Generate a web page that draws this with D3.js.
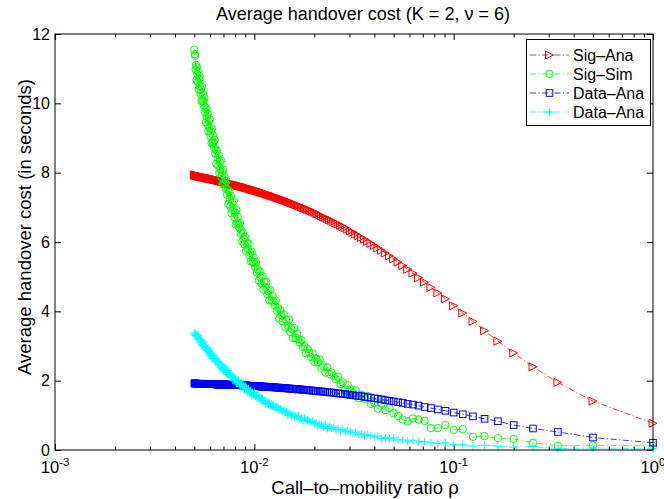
<!DOCTYPE html>
<html><head><meta charset="utf-8">
<script src="https://cdn.jsdelivr.net/npm/d3@7/dist/d3.min.js"></script>
<style>
body{margin:0;background:#fff}
svg{display:block}
text{font-family:"Liberation Sans",Arial,Helvetica,sans-serif;fill:#000}
</style>
</head><body>
<svg id="chart" width="664" height="499"></svg>
<script>
// Call-to-mobility ratio rho (x values, 1/1 ... 1/200)
const rho = [1,0.5,0.3333,0.25,0.2,0.1667,0.1429,0.125,0.1111,0.1,
0.09091,0.08333,0.07692,0.07143,0.06667,0.0625,0.05882,0.05556,0.05263,0.05,
0.04762,0.04545,0.04348,0.04167,0.04,0.03846,0.03704,0.03571,0.03448,0.03333,
0.03226,0.03125,0.0303,0.02941,0.02857,0.02778,0.02703,0.02632,0.02564,0.025,
0.02439,0.02381,0.02326,0.02273,0.02222,0.02174,0.02128,0.02083,0.02041,0.02,
0.01961,0.01923,0.01887,0.01852,0.01818,0.01786,0.01754,0.01724,0.01695,0.01667,
0.01639,0.01613,0.01587,0.01563,0.01538,0.01515,0.01493,0.01471,0.01449,0.01429,
0.01408,0.01389,0.0137,0.01351,0.01333,0.01316,0.01299,0.01282,0.01266,0.0125,
0.01235,0.0122,0.01205,0.0119,0.01176,0.01163,0.01149,0.01136,0.01124,0.01111,
0.01099,0.01087,0.01075,0.01064,0.01053,0.01042,0.01031,0.0102,0.0101,0.01,
0.009901,0.009804,0.009709,0.009615,0.009524,0.009434,0.009346,0.009259,0.009174,0.009091,
0.009009,0.008929,0.00885,0.008772,0.008696,0.008621,0.008547,0.008475,0.008403,0.008333,
0.008264,0.008197,0.00813,0.008065,0.008,0.007937,0.007874,0.007813,0.007752,0.007692,
0.007634,0.007576,0.007519,0.007463,0.007407,0.007353,0.007299,0.007246,0.007194,0.007143,
0.007092,0.007042,0.006993,0.006944,0.006897,0.006849,0.006803,0.006757,0.006711,0.006667,
0.006623,0.006579,0.006536,0.006494,0.006452,0.00641,0.006369,0.006329,0.006289,0.00625,
0.006211,0.006173,0.006135,0.006098,0.006061,0.006024,0.005988,0.005952,0.005917,0.005882,
0.005848,0.005814,0.00578,0.005747,0.005714,0.005682,0.00565,0.005618,0.005587,0.005556,
0.005525,0.005495,0.005464,0.005435,0.005405,0.005376,0.005348,0.005319,0.005291,0.005263,
0.005236,0.005208,0.005181,0.005155,0.005128,0.005102,0.005076,0.005051,0.005025,0.005];

const sigAna = [0.77,1.41,1.95,2.40,2.80,3.14,3.44,3.71,3.95,4.16,
4.36,4.53,4.69,4.84,4.97,5.10,5.21,5.32,5.42,5.51,
5.60,5.68,5.76,5.83,5.90,5.96,6.02,6.08,6.13,6.18,
6.23,6.28,6.32,6.37,6.41,6.45,6.48,6.52,6.55,6.59,
6.62,6.64,6.67,6.70,6.72,6.75,6.78,6.81,6.83,6.86,
6.88,6.90,6.92,6.94,6.96,6.98,6.99,7.01,7.03,7.05,
7.07,7.08,7.10,7.11,7.13,7.14,7.16,7.17,7.19,7.20,
7.21,7.22,7.24,7.25,7.26,7.27,7.28,7.30,7.31,7.32,
7.33,7.34,7.35,7.36,7.37,7.38,7.39,7.40,7.41,7.42,
7.43,7.44,7.44,7.45,7.46,7.47,7.48,7.48,7.49,7.50,
7.51,7.51,7.52,7.53,7.53,7.54,7.55,7.56,7.56,7.57,
7.58,7.58,7.59,7.59,7.60,7.61,7.61,7.62,7.62,7.63,
7.63,7.64,7.64,7.65,7.65,7.66,7.66,7.67,7.67,7.68,
7.68,7.69,7.69,7.70,7.70,7.71,7.71,7.72,7.72,7.73,
7.73,7.74,7.74,7.75,7.75,7.75,7.76,7.76,7.77,7.77,
7.77,7.78,7.78,7.79,7.79,7.79,7.80,7.80,7.81,7.81,
7.81,7.82,7.82,7.82,7.83,7.83,7.83,7.84,7.84,7.84,
7.84,7.85,7.85,7.85,7.86,7.86,7.86,7.87,7.87,7.87,
7.87,7.88,7.88,7.88,7.89,7.89,7.89,7.90,7.90,7.90,
7.90,7.91,7.91,7.91,7.92,7.92,7.92,7.93,7.93,7.93];

const sigSim = [0.12,0.13,0.12,0.21,0.32,0.34,0.40,0.38,0.60,0.58,
0.72,0.63,0.63,0.84,0.88,0.91,0.82,0.88,0.98,1.06,
1.21,1.15,1.34,1.19,1.36,1.33,1.56,1.48,1.59,1.49,
1.73,1.63,1.75,1.87,1.74,1.95,1.91,2.11,2.04,2.13,
2.24,2.19,2.38,2.23,2.41,2.37,2.61,2.53,2.64,2.54,
2.78,2.68,2.80,2.92,2.79,3.00,2.97,3.17,3.10,3.19,
3.35,3.23,3.52,3.23,3.49,3.40,3.76,3.59,3.74,3.54,
3.91,3.71,3.88,4.03,3.79,4.10,4.02,4.31,4.17,4.28,
4.44,4.31,4.61,4.32,4.58,4.49,4.85,4.68,4.84,4.63,
5.01,4.80,4.98,5.14,4.89,5.21,5.12,5.42,5.27,5.39,
5.55,5.42,5.72,5.44,5.69,5.61,5.96,5.80,5.96,5.75,
6.13,5.93,6.10,6.26,6.02,6.33,6.25,6.55,6.41,6.52,
6.73,6.53,6.93,6.51,6.85,6.71,7.18,6.93,7.13,6.83,
7.33,7.03,7.25,7.45,7.09,7.51,7.37,7.77,7.54,7.69,
7.88,7.69,8.09,7.67,8.01,7.87,8.35,8.10,8.30,7.99,
8.50,8.20,8.42,8.62,8.26,8.68,8.55,8.94,8.72,8.87,
9.07,8.87,9.27,8.85,9.19,9.06,9.54,9.29,9.49,9.19,
9.69,9.39,9.62,9.82,9.46,9.88,9.75,10.15,9.93,10.07,
10.27,10.08,10.48,10.06,10.40,10.27,10.75,10.50,10.70,10.40,
10.91,10.61,10.84,11.04,10.68,11.11,10.97,11.37,11.42,11.55];

const dataAna = [0.21,0.36,0.52,0.62,0.72,0.83,0.90,0.97,1.03,1.08,
1.13,1.17,1.21,1.24,1.28,1.31,1.33,1.36,1.38,1.40,
1.42,1.44,1.46,1.48,1.49,1.51,1.52,1.53,1.55,1.56,
1.57,1.58,1.59,1.60,1.61,1.62,1.63,1.63,1.64,1.65,
1.66,1.66,1.67,1.68,1.68,1.69,1.69,1.70,1.70,1.71,
1.71,1.72,1.72,1.73,1.73,1.73,1.74,1.74,1.75,1.75,
1.75,1.76,1.76,1.76,1.77,1.77,1.77,1.78,1.78,1.78,
1.78,1.79,1.79,1.79,1.80,1.80,1.80,1.80,1.81,1.81,
1.81,1.81,1.82,1.82,1.82,1.82,1.82,1.83,1.83,1.83,
1.83,1.83,1.83,1.84,1.84,1.84,1.84,1.84,1.84,1.84,
1.84,1.85,1.85,1.85,1.85,1.85,1.85,1.86,1.86,1.86,
1.86,1.86,1.86,1.86,1.87,1.87,1.87,1.87,1.87,1.87,
1.87,1.87,1.87,1.87,1.87,1.88,1.88,1.88,1.88,1.88,
1.88,1.88,1.88,1.88,1.88,1.89,1.89,1.89,1.89,1.89,
1.89,1.89,1.89,1.89,1.89,1.89,1.89,1.89,1.89,1.89,
1.89,1.89,1.89,1.89,1.89,1.90,1.90,1.90,1.90,1.90,
1.90,1.90,1.90,1.90,1.90,1.90,1.90,1.90,1.90,1.90,
1.90,1.90,1.90,1.90,1.90,1.91,1.91,1.91,1.91,1.91,
1.91,1.91,1.91,1.91,1.91,1.91,1.91,1.91,1.91,1.91,
1.91,1.91,1.91,1.91,1.91,1.92,1.92,1.92,1.92,1.92];

const dataSim = [0.03,0.06,0.04,0.10,0.08,0.11,0.14,0.11,0.16,0.15,
0.21,0.19,0.21,0.24,0.23,0.28,0.25,0.29,0.29,0.35,
0.33,0.36,0.33,0.40,0.37,0.41,0.44,0.41,0.46,0.45,
0.51,0.49,0.52,0.55,0.53,0.59,0.55,0.60,0.59,0.65,
0.63,0.67,0.62,0.72,0.67,0.71,0.75,0.70,0.78,0.76,
0.83,0.80,0.83,0.87,0.84,0.92,0.85,0.91,0.89,0.99,
0.95,0.99,0.94,1.03,0.99,1.03,1.07,1.01,1.10,1.08,
1.15,1.12,1.15,1.19,1.16,1.24,1.17,1.24,1.22,1.31,
1.27,1.31,1.27,1.36,1.31,1.36,1.40,1.34,1.43,1.41,
1.48,1.45,1.48,1.52,1.50,1.57,1.50,1.57,1.55,1.65,
1.61,1.66,1.58,1.71,1.64,1.70,1.75,1.66,1.77,1.74,
1.84,1.79,1.83,1.88,1.83,1.93,1.83,1.92,1.89,2.01,
1.95,2.00,1.93,2.06,1.99,2.05,2.10,2.01,2.12,2.09,
2.19,2.14,2.18,2.23,2.18,2.29,2.19,2.27,2.24,2.37,
2.31,2.36,2.29,2.42,2.34,2.40,2.46,2.37,2.48,2.45,
2.55,2.50,2.54,2.59,2.55,2.65,2.55,2.64,2.61,2.73,
2.67,2.73,2.65,2.78,2.71,2.77,2.83,2.74,2.85,2.82,
2.92,2.87,2.91,2.96,2.92,3.02,2.92,3.01,2.98,3.11,
3.05,3.10,3.03,3.16,3.09,3.15,3.20,3.12,3.23,3.20,
3.30,3.25,3.29,3.31,3.30,3.34,3.29,3.33,3.32,3.38];

const seriesNames = ["Sig\u2013Ana","Sig\u2013Sim","Data\u2013Ana","Data\u2013Ana"];
const seriesColors = ["#ff0000","#00ff00","#0000ff","#00ffff"];
const seriesMarkers = ["tri","circle","square","plus"];
const seriesValues = [sigAna, sigSim, dataAna, dataSim];
const yTicks = [0,2,4,6,8,10,12];
const xTickExps = ["-3","-2","-1","0"];
const xTickVals = [0.001,0.01,0.1,1];
const titleText = "Average handover cost (K = 2, \u03bd = 6)";
const xLabelText = "Call\u2013to\u2013mobility ratio \u03c1";
const yLabelText = "Average handover cost (in seconds)";

const svg = d3.select("#chart");
const L=55, R=653, T=34, B=450;
const x = d3.scaleLog().domain([1e-3,1]).range([L,R]);
const y = d3.scaleLinear().domain([0,12]).range([B,T]);

// minor ticks for log axis
const minors = [];
[0.001,0.01,0.1].forEach(d=>{for(let k=2;k<=9;k++) minors.push(d*k);});

const axG = svg.append("g");
function styleAxis(g){ g.select(".domain").remove(); g.selectAll("line").attr("stroke","#000").attr("stroke-width",1); }
axG.append("g").attr("transform",`translate(0,${B})`).call(d3.axisBottom(x).tickValues(xTickVals).tickSize(-6).tickSizeOuter(0).tickFormat("")).call(styleAxis);
axG.append("g").attr("transform",`translate(0,${B})`).call(d3.axisBottom(x).tickValues(minors).tickSize(-3.5).tickSizeOuter(0).tickFormat("")).call(styleAxis);
axG.append("g").attr("transform",`translate(0,${T})`).call(d3.axisTop(x).tickValues(xTickVals).tickSize(-6).tickSizeOuter(0).tickFormat("")).call(styleAxis);
axG.append("g").attr("transform",`translate(0,${T})`).call(d3.axisTop(x).tickValues(minors).tickSize(-3.5).tickSizeOuter(0).tickFormat("")).call(styleAxis);
const yl = axG.append("g").attr("transform",`translate(${L},0)`).call(d3.axisLeft(y).tickValues(yTicks).tickSize(-6).tickSizeOuter(0).tickPadding(5)).call(styleAxis);
yl.selectAll("text").attr("font-size",16).attr("font-family","Liberation Sans, Arial, sans-serif").attr("fill","#000");
axG.append("g").attr("transform",`translate(${R},0)`).call(d3.axisRight(y).tickValues(yTicks).tickSize(-6).tickSizeOuter(0).tickFormat("")).call(styleAxis);

// x tick labels with exponents
xTickVals.forEach((v,i)=>{
  const t = svg.append("text").attr("x",x(v)).attr("y",B+23).attr("text-anchor","middle").attr("font-size",16.5);
  t.append("tspan").text("10");
  t.append("tspan").attr("dy",-7.5).attr("font-size",11.5).text(xTickExps[i]);
});

// data series
const plot = svg.append("g");
function marker(g, type, color){
  const r=4;
  if(type==="tri") g.append("path").attr("d",`M${r},0L${-r},${-r}L${-r},${r}Z`).attr("fill","none").attr("stroke",color).attr("stroke-width",1);
  if(type==="circle") g.append("circle").attr("r",3.7).attr("fill","none").attr("stroke",color).attr("stroke-width",1);
  if(type==="square") g.append("rect").attr("x",-3.3).attr("y",-3.3).attr("width",6.6).attr("height",6.6).attr("fill","none").attr("stroke",color).attr("stroke-width",1);
  if(type==="plus") g.append("path").attr("d",`M${-r},0H${r}M0,${-r}V${r}`).attr("fill","none").attr("stroke",color).attr("stroke-width",1);
}
const line = d3.line().x(d=>x(d[0])).y(d=>y(d[1]));
seriesValues.forEach((vals,si)=>{
  const pts = rho.map((r,i)=>[r,vals[i]]);
  const g = plot.append("g");
  g.append("path").datum(pts).attr("d",line).attr("fill","none").attr("stroke",seriesColors[si]).attr("stroke-width",0.8).attr("stroke-dasharray","6,2.5,1.2,2.5");
  pts.forEach(p=>{
    const mg = g.append("g").attr("transform",`translate(${x(p[0])},${y(p[1])})`);
    marker(mg, seriesMarkers[si], seriesColors[si]);
  });
});

// frame
svg.append("rect").attr("x",L).attr("y",T).attr("width",R-L).attr("height",B-T).attr("fill","none").attr("stroke","#000").attr("stroke-width",1);

// legend
const lg = svg.append("g");
lg.append("rect").attr("x",526.5).attr("y",39.5).attr("width",124).attr("height",86).attr("fill","#fff").attr("stroke","#000").attr("stroke-width",1);
seriesNames.forEach((nm,i)=>{
  const yy = 55 + i*19;
  lg.append("line").attr("x1",530).attr("x2",569).attr("y1",yy).attr("y2",yy).attr("stroke",seriesColors[i]).attr("stroke-width",0.8).attr("stroke-dasharray","6,2.5,1.2,2.5");
  const mg = lg.append("g").attr("transform",`translate(549.5,${yy})`);
  marker(mg, seriesMarkers[i], seriesColors[i]);
  lg.append("text").attr("x",573).attr("y",yy+5.8).attr("font-size",16).text(nm);
});

// title & labels
svg.append("text").attr("x",363).attr("y",20).attr("text-anchor","middle").attr("font-size",18).text(titleText);
svg.append("text").attr("x",365).attr("y",494).attr("text-anchor","middle").attr("font-size",18.5).text(xLabelText);
svg.append("text").attr("transform","translate(31,227) rotate(-90)").attr("text-anchor","middle").attr("font-size",18.5).text(yLabelText);
</script>
</body></html>
